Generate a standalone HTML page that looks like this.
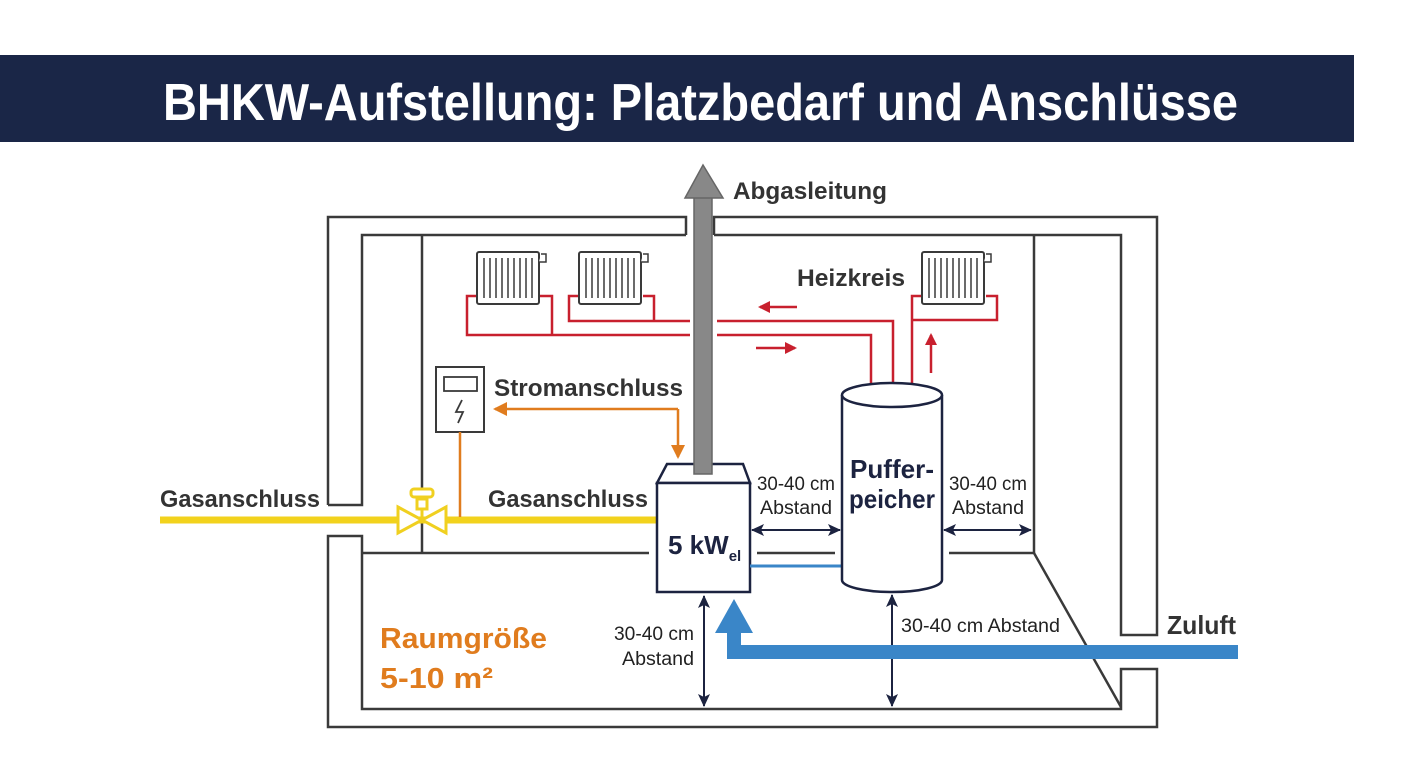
<!DOCTYPE html>
<html><head><meta charset="utf-8"><style>
html,body{margin:0;padding:0;background:#fff;}
svg{display:block;}
text{font-family:"Liberation Sans",sans-serif;font-weight:bold;}
</style></head><body>
<svg width="1408" height="768" viewBox="0 0 1408 768" xmlns="http://www.w3.org/2000/svg">
<defs>
<marker id="an" markerWidth="13" markerHeight="12" refX="12" refY="6" orient="auto-start-reverse" markerUnits="userSpaceOnUse"><path d="M0,0 L13,6 L0,12 L3,6 Z" fill="#1c2340"/></marker>
<marker id="ao" markerWidth="14" markerHeight="14" refX="12" refY="7" orient="auto" markerUnits="userSpaceOnUse"><path d="M0,0 L14,7 L0,14 Z" fill="#e07c1e"/></marker>
<marker id="ar" markerWidth="12" markerHeight="12" refX="10" refY="6" orient="auto" markerUnits="userSpaceOnUse"><path d="M0,0 L12,6 L0,12 Z" fill="#c8202e"/></marker>
</defs>
<rect x="0" y="55" width="1354" height="87" fill="#1a2647"/>
<text x="163" y="120" font-size="52" fill="#fff" textLength="1075" lengthAdjust="spacingAndGlyphs">BHKW-Aufstellung: Platzbedarf und Anschlüsse</text>

<g fill="none" stroke="#3a3a3a" stroke-width="2.5">
<path d="M328,505 V217 H686 V235 M714,235 V217 H1157 V635 H1121 V235 H714 M686,235 H362 V505 H328"/>
<path d="M422,235 V553"/>
<path d="M1034,235 V553"/>
<path d="M328,536 H362 V709 H1121 V669 H1157 V727 H328 Z"/>
<path d="M362,553 H649 M757,553 H835 M949,553 H1034 L1121,707"/>
</g>

<g fill="none" stroke="#c8202e" stroke-width="2.5">
<path d="M477,296 H467 V335 H690 M717,335 H871 V385"/>
<path d="M539,296 H552 V335"/>
<path d="M579,296 H569 V321 H690 M717,321 H893 V385"/>
<path d="M643,296 H654 V321"/>
<path d="M922,296 H912 V385 M986,296 H997 V320 H912"/>
<path d="M797,307 H760" marker-end="url(#ar)"/>
<path d="M756,348 H795" marker-end="url(#ar)"/>
<path d="M931,373 V335" marker-end="url(#ar)"/>
</g>
<g fill="#fff" stroke="#3a3a3a" stroke-width="2">
<g id="rad">
<rect x="477" y="252" width="62" height="52" rx="2"/>
<path d="M484,258 V298 M490,258 V298 M496,258 V298 M502,258 V298 M508,258 V298 M514,258 V298 M520,258 V298 M526,258 V298 M532,258 V298" stroke-width="1.5"/>
<path d="M539,262 H546 V254 H541" stroke-width="1.5"/>
</g>
<use href="#rad" x="102"/>
<use href="#rad" x="445"/>
</g>

<path d="M667,464 H743 L750,483 H657 Z" fill="#fff" stroke="#1c2340" stroke-width="2.5"/>
<rect x="694" y="196" width="18" height="278" fill="#888" stroke="#666" stroke-width="1.5"/>
<path d="M685,198 L703,165 L723,198 Z" fill="#888" stroke="#666" stroke-width="1.5"/>
<text x="733" y="199" font-size="24" fill="#333" textLength="154" lengthAdjust="spacingAndGlyphs">Abgasleitung</text>
<text x="797" y="286" font-size="24" fill="#333" textLength="108" lengthAdjust="spacingAndGlyphs">Heizkreis</text>

<path d="M160,520 H657" stroke="#f2d21c" stroke-width="7"/>
<g fill="#fff" stroke="#f0d020" stroke-width="3">
<path d="M398,507 L422,520 L398,533 Z M446,507 L422,520 L446,533 Z"/>
<path d="M422,520 V500" fill="none"/>
<rect x="411" y="489" width="22" height="8" rx="3"/>
<rect x="417" y="499" width="10" height="10"/>
</g>
<text x="160" y="507" font-size="24" fill="#333" textLength="160" lengthAdjust="spacingAndGlyphs">Gasanschluss</text>
<text x="488" y="507" font-size="24" fill="#333" textLength="160" lengthAdjust="spacingAndGlyphs">Gasanschluss</text>

<rect x="436" y="367" width="48" height="65" fill="#fff" stroke="#3a3a3a" stroke-width="2"/>
<rect x="444" y="377" width="33" height="14" fill="none" stroke="#3a3a3a" stroke-width="1.8"/>
<path d="M462,400 L456,412 H463 L458,423" fill="none" stroke="#3a3a3a" stroke-width="1.8"/>
<path d="M460,432 V517" stroke="#e07c1e" stroke-width="2.5"/>
<path d="M678,409 H495" fill="none" stroke="#e07c1e" stroke-width="2.5" marker-end="url(#ao)"/>
<path d="M678,409 V457" fill="none" stroke="#e07c1e" stroke-width="2.5" marker-end="url(#ao)"/>
<text x="494" y="396" font-size="24" fill="#333" textLength="189" lengthAdjust="spacingAndGlyphs">Stromanschluss</text>

<rect x="657" y="483" width="93" height="109" fill="#fff" stroke="#1c2340" stroke-width="2.5"/>
<text x="668" y="554" font-size="26" fill="#1c2340">5 kW<tspan font-size="15" dy="7">el</tspan></text>
<path d="M750,566 H842" stroke="#3a86c8" stroke-width="3"/>

<path d="M842,395 V580 A50,12 0 0 0 942,580 V395" fill="#fff" stroke="#1c2340" stroke-width="2.5"/>
<ellipse cx="892" cy="395" rx="50" ry="12" fill="#fff" stroke="#1c2340" stroke-width="2.5"/>
<text x="892" y="478" font-size="26" fill="#1c2340" text-anchor="middle" textLength="84" lengthAdjust="spacingAndGlyphs">Puffer-</text>
<text x="892" y="508" font-size="26" fill="#1c2340" text-anchor="middle" textLength="86" lengthAdjust="spacingAndGlyphs">peicher</text>

<g stroke="#1c2340" stroke-width="2" fill="none">
<path d="M752,530 H840" marker-start="url(#an)" marker-end="url(#an)"/>
<path d="M944,530 H1031" marker-start="url(#an)" marker-end="url(#an)"/>
<path d="M704,596 V706" marker-start="url(#an)" marker-end="url(#an)"/>
<path d="M892,595 V706" marker-start="url(#an)" marker-end="url(#an)"/>
</g>
<g font-size="19" fill="#222">
<text x="796" y="490" text-anchor="middle" style="font-weight:normal" textLength="78" lengthAdjust="spacingAndGlyphs">30-40 cm</text>
<text x="796" y="514" text-anchor="middle" style="font-weight:normal" textLength="72" lengthAdjust="spacingAndGlyphs">Abstand</text>
<text x="988" y="490" text-anchor="middle" style="font-weight:normal" textLength="78" lengthAdjust="spacingAndGlyphs">30-40 cm</text>
<text x="988" y="514" text-anchor="middle" style="font-weight:normal" textLength="72" lengthAdjust="spacingAndGlyphs">Abstand</text>
<text x="654" y="640" text-anchor="middle" style="font-weight:normal" textLength="80" lengthAdjust="spacingAndGlyphs">30-40 cm</text>
<text x="658" y="665" text-anchor="middle" style="font-weight:normal" textLength="72" lengthAdjust="spacingAndGlyphs">Abstand</text>
<text x="901" y="632" style="font-weight:normal" textLength="159" lengthAdjust="spacingAndGlyphs">30-40 cm Abstand</text>
</g>

<path d="M1238,652 H734 V630" fill="none" stroke="#3a86c8" stroke-width="14"/>
<path d="M715,633 L734,599 L753,633 Z" fill="#3a86c8"/>
<text x="1167" y="634" font-size="26" fill="#333" textLength="69" lengthAdjust="spacingAndGlyphs">Zuluft</text>

<text x="380" y="648" font-size="29" fill="#e07c1e" textLength="167" lengthAdjust="spacingAndGlyphs">Raumgröße</text>
<text x="380" y="688" font-size="29" fill="#e07c1e" textLength="113" lengthAdjust="spacingAndGlyphs">5-10 m²</text>
</svg>
</body></html>
